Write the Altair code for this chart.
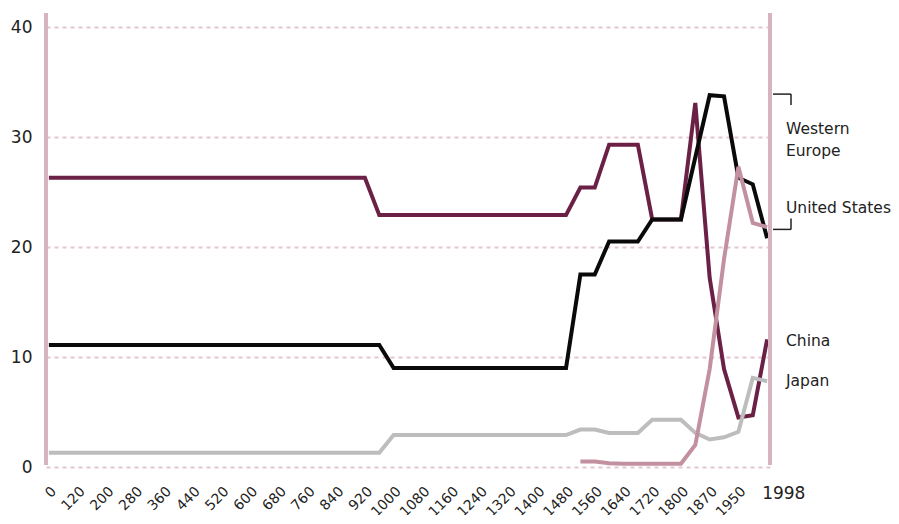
import altair as alt
import pandas as pd

years = ["0", "80", "120", "160", "200", "240", "280", "320", "360", "400",
         "440", "480", "520", "560", "600", "640", "680", "720", "760", "800",
         "840", "880", "920", "960", "1000", "1040", "1080", "1120", "1160", "1200",
         "1240", "1280", "1320", "1360", "1400", "1440", "1480", "1520", "1560", "1600",
         "1640", "1680", "1720", "1760", "1800", "1820", "1870", "1913", "1950", "1973",
         "1998"]

label_years = ["0", "120", "200", "280", "360", "440", "520", "600", "680", "760",
               "840", "920", "1000", "1080", "1160", "1240", "1320", "1400", "1480",
               "1560", "1640", "1720", "1800", "1870", "1950"]

china = [26.3, 26.3, 26.3, 26.3, 26.3, 26.3, 26.3, 26.3, 26.3, 26.3,
         26.3, 26.3, 26.3, 26.3, 26.3, 26.3, 26.3, 26.3, 26.3, 26.3,
         26.3, 26.3, 26.3, 22.9, 22.9, 22.9, 22.9, 22.9, 22.9, 22.9,
         22.9, 22.9, 22.9, 22.9, 22.9, 22.9, 22.9, 25.4, 25.4, 29.3,
         29.3, 29.3, 22.5, 22.5, 22.5, 33.1, 17.2, 8.9, 4.5, 4.7,
         11.6]

western_europe = [11.1, 11.1, 11.1, 11.1, 11.1, 11.1, 11.1, 11.1, 11.1, 11.1,
                  11.1, 11.1, 11.1, 11.1, 11.1, 11.1, 11.1, 11.1, 11.1, 11.1,
                  11.1, 11.1, 11.1, 11.1, 9.0, 9.0, 9.0, 9.0, 9.0, 9.0,
                  9.0, 9.0, 9.0, 9.0, 9.0, 9.0, 9.0, 17.5, 17.5, 20.5,
                  20.5, 20.5, 22.5, 22.5, 22.5, None, 33.8, 33.7, 26.3, 25.7,
                  20.8]

japan = [1.3, 1.3, 1.3, 1.3, 1.3, 1.3, 1.3, 1.3, 1.3, 1.3,
         1.3, 1.3, 1.3, 1.3, 1.3, 1.3, 1.3, 1.3, 1.3, 1.3,
         1.3, 1.3, 1.3, 1.3, 2.9, 2.9, 2.9, 2.9, 2.9, 2.9,
         2.9, 2.9, 2.9, 2.9, 2.9, 2.9, 2.9, 3.4, 3.4, 3.1,
         3.1, 3.1, 4.3, 4.3, 4.3, 3.1, 2.5, 2.7, 3.2, 8.1,
         7.8]

united_states = [None, None, None, None, None, None, None, None, None, None,
                 None, None, None, None, None, None, None, None, None, None,
                 None, None, None, None, None, None, None, None, None, None,
                 None, None, None, None, None, None, None, 0.5, 0.5, 0.35,
                 0.3, 0.3, 0.3, 0.3, 0.3, 2.0, 8.9, 18.9, 27.3, 22.2,
                 21.8]

series_names = ["China", "Japan", "Western Europe", "United States"]
series_values = [china, japan, western_europe, united_states]
series_colors = ["#6b2145", "#bdbdbd", "#0a0a0a", "#c2909f"]

label_text = [["Western", "Europe"], "United States", "China", "Japan"]
label_value = [30.7, 23.55, 11.45, 7.8]

bracket_top = [33.9, 32.9]
bracket_bottom = [22.6, 21.6]

rows = []
for name, vals in zip(series_names, series_values):
    for yr, v in zip(years, vals):
        if v is not None:
            rows.append({"year": yr, "value": v, "series": name})
df = pd.DataFrame(rows)

W, H = 724, 440
PINK = "#d5b3bf"
GRID = "#e3c6cf"
TXT = "#222222"
FONT = "DejaVu Sans"

x_axis = alt.Axis(values=label_years, labelAngle=-45, labelAlign="right",
                  labelBaseline="top", labelPadding=17, ticks=False,
                  domain=False, grid=False, labelFontSize=14,
                  labelColor=TXT, labelFont=FONT, labelOverlap=False, title=None)
y_axis = alt.Axis(values=[0, 10, 20, 30, 40], ticks=False, domain=False,
                  grid=True, gridColor=GRID, gridDash=[4, 4], gridWidth=2,
                  labelPadding=14, labelFontSize=17, labelColor=TXT,
                  labelFont=FONT, title=None)
x_scale = alt.Scale(type="point", padding=0.2)
y_scale = alt.Scale(domain=[0, 40], nice=False)


def xe(field):
    return alt.X(field, type="ordinal", sort=years, scale=x_scale, axis=x_axis)


def ye(field):
    return alt.Y(field, type="quantitative", scale=y_scale, axis=y_axis)


layers = []
for name, color in zip(series_names, series_colors):
    layers.append(
        alt.Chart(df).transform_filter(alt.datum.series == name)
        .mark_line(color=color, strokeWidth=4, clip=False)
        .encode(x=xe("year"), y=ye("value"))
    )

one = pd.DataFrame({"k": [0]})
left_edge = alt.Chart(one).mark_rule(color=PINK, strokeWidth=4).encode(
    x=alt.value(0), y=alt.value(-14), y2=alt.value(438))
right_edge = alt.Chart(one).mark_rule(color=PINK, strokeWidth=4).encode(
    x=alt.value(W), y=alt.value(-14), y2=alt.value(438))

last_label = alt.Chart(pd.DataFrame({"year": ["1998"]})).mark_text(
    align="left", baseline="middle", dx=-5, fontSize=17, font=FONT, color=TXT
).encode(x=xe("year"), y=alt.value(H + 27), text="year:N")

lab_df = pd.DataFrame({"text": label_text, "value": label_value})
labels = alt.Chart(lab_df).mark_text(
    align="left", baseline="middle", fontSize=15.5, font=FONT, color=TXT, lineHeight=22
).encode(x=alt.value(740), y=ye("value"), text="text")

top_df = pd.DataFrame({"value": [bracket_top[0]], "value2": [bracket_top[1]]})
bot_df = pd.DataFrame({"value": [bracket_bottom[1]], "value2": [bracket_bottom[0]]})
br_style = dict(color=TXT, strokeWidth=1.5)
br_top_h = alt.Chart(top_df).mark_rule(**br_style).encode(
    x=alt.value(727), x2=alt.value(745), y=ye("value"))
br_top_v = alt.Chart(top_df).mark_rule(**br_style).encode(
    x=alt.value(745), y=ye("value"), y2="value2:Q")
br_bot_h = alt.Chart(bot_df).mark_rule(**br_style).encode(
    x=alt.value(727), x2=alt.value(745), y=ye("value"))
br_bot_v = alt.Chart(bot_df).mark_rule(**br_style).encode(
    x=alt.value(745), y=ye("value"), y2="value2:Q")

chart = alt.layer(
    *layers, left_edge, right_edge, last_label, labels,
    br_top_h, br_top_v, br_bot_h, br_bot_v
).properties(
    width=W, height=H,
    autosize=alt.AutoSizeParams(type="none"),
    padding={"left": 38, "top": 19, "right": 121, "bottom": 48}
).configure_view(stroke=None)

chart.save("out.html", embed_options={"renderer": "svg", "actions": False})
